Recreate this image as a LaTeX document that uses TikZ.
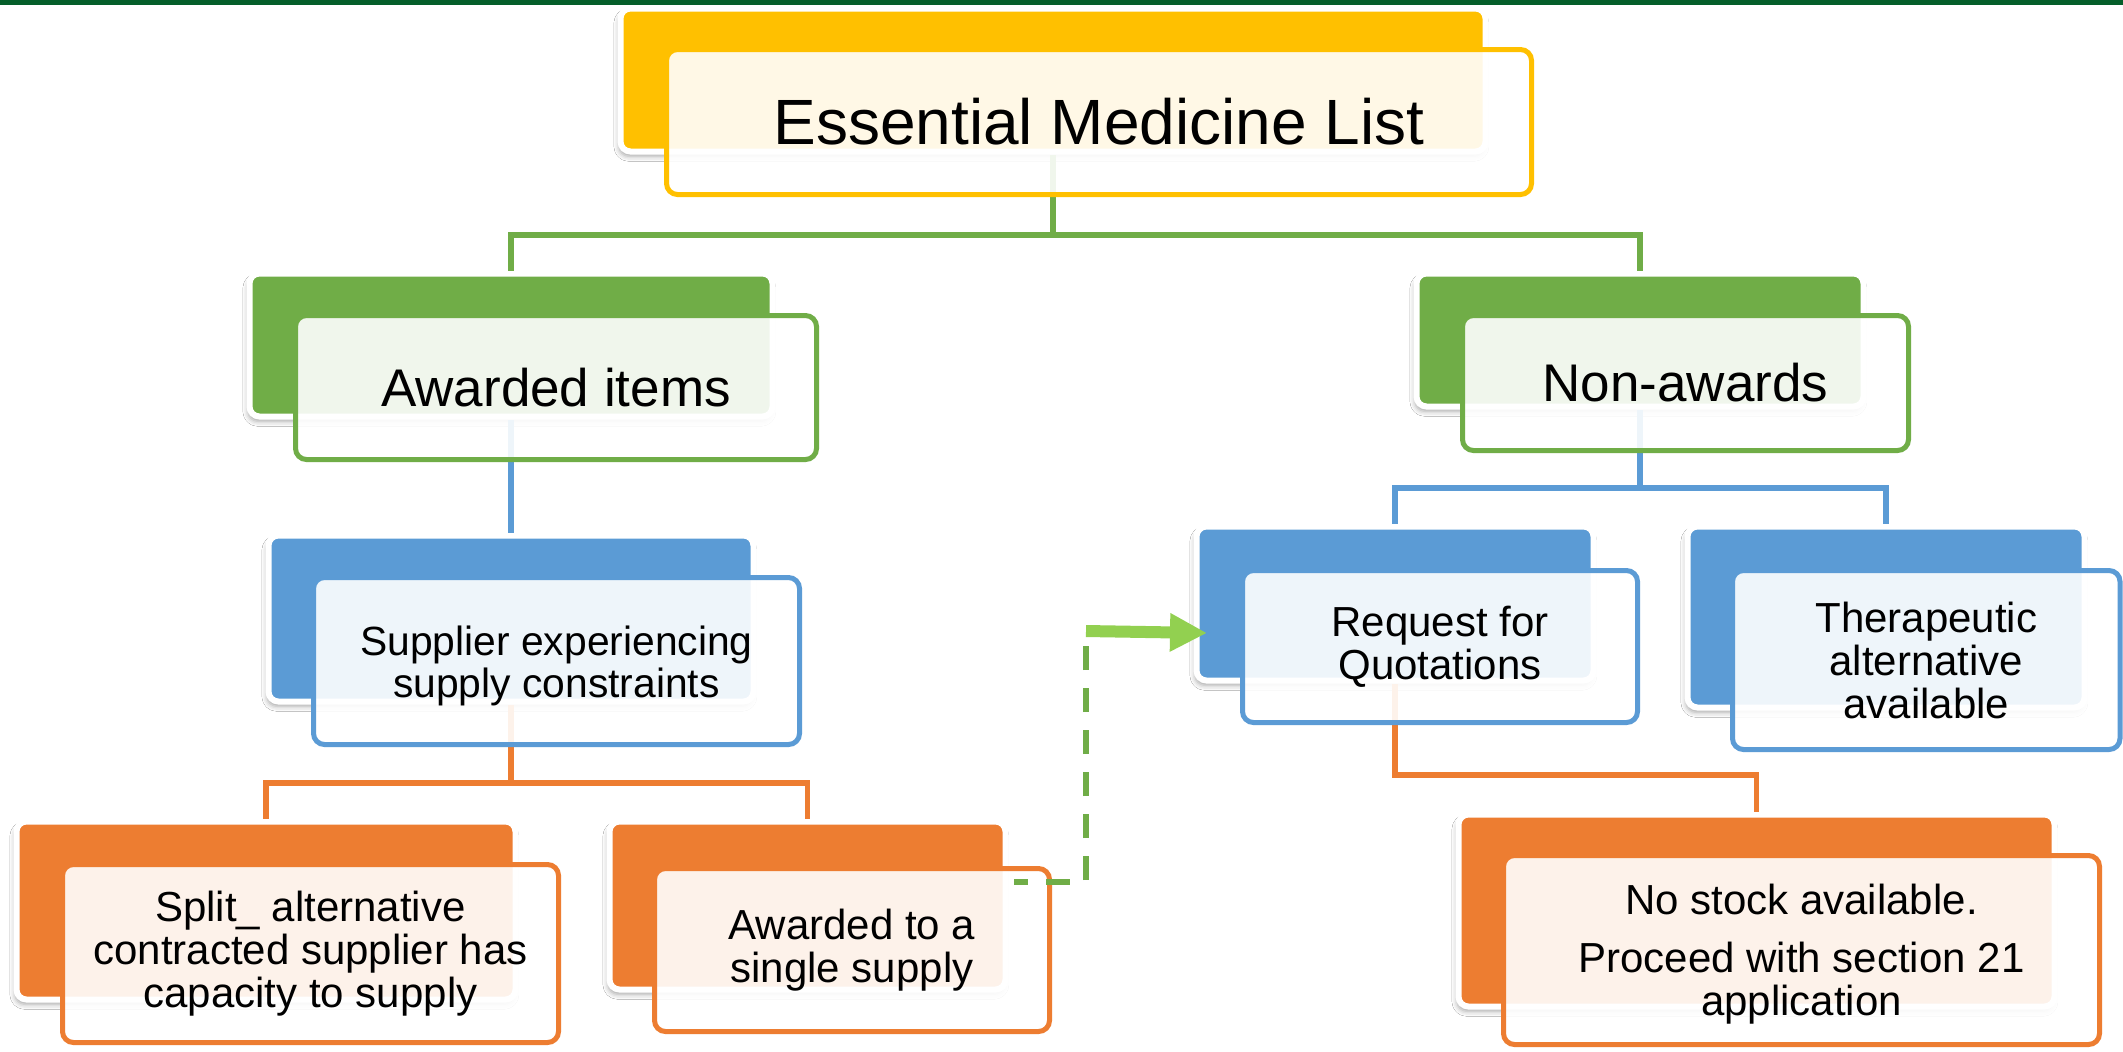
\documentclass[tikz,border=0pt]{standalone}
\usepackage{fontspec}
\setmainfont{Liberation Sans}
\usetikzlibrary{fit,arrows.meta,shadows.blur}
\definecolor{cyel}{HTML}{FFC000}
\definecolor{cgreen}{HTML}{70AD47}
\definecolor{cblue}{HTML}{5B9BD5}
\definecolor{corange}{HTML}{ED7D31}
\definecolor{carrow}{HTML}{92D050}
\definecolor{ctop}{HTML}{055E2A}
\begin{document}
\begin{tikzpicture}[x=0.5pt,y=-0.5pt,
  backbox/.style={draw=white, line width=3pt, rounded corners=5pt, inner sep=0pt,
    blur shadow={shadow xshift=-0.8pt, shadow yshift=-2.4pt, shadow blur radius=2.5pt, shadow opacity=35}},
  frontbox/.style={line width=2.5pt, rounded corners=5.5pt, inner sep=0pt, outer sep=0pt,
    fill=white, fill opacity=0.9},
  conn/.style={line width=2.6pt},
  lbl/.style={align=center, text=black, inner sep=0pt},
  lvla/.style={lbl, font=\fontsize{32}{38}\selectfont},
  lvlb/.style={lbl, font=\fontsize{26.5}{30}\selectfont},
  lvlc/.style={lbl, font=\fontsize{21}{21.5}\selectfont},
  dashconn/.style={cgreen, line width=3pt, dash pattern=on 12pt off 9pt, dash phase=5pt}
]
\useasboundingbox (0,0) rectangle (2123,1051);
\fill[white] (0,0) rectangle (2123,1051);
\fill[ctop] (0,0) rectangle (2123,4.5);

% back boxes
\node[backbox, fill=cyel, fit={(620.5,8.5)(1485.5,151.5)}] (tback) {};
\node[backbox, fill=cgreen, fit={(249.5,273.5)(772.5,416.5)}] (aback) {};
\node[backbox, fill=cgreen, fit={(1416.5,273.5)(1863.5,406.5)}] (nback) {};
\node[backbox, fill=cblue, fit={(268.5,535.5)(753.5,701.5)}] (sback) {};
\node[backbox, fill=cblue, fit={(1196.5,526.5)(1593.5,680.5)}] (rback) {};
\node[backbox, fill=cblue, fit={(1687.5,526.5)(2084.5,707.5)}] (thback) {};
\node[backbox, fill=corange, fit={(16.5,821.5)(515.5,999.5)}] (spback) {};
\node[backbox, fill=corange, fit={(609.5,821.5)(1005.5,989.5)}] (sgback) {};
\node[backbox, fill=corange, fit={(1458.5,814.5)(2054.5,1006.5)}] (nsback) {};

% connectors
\draw[conn, cgreen] (tback.south) -- (tback.south |- 0,235) -| (aback.north);
\draw[conn, cgreen] (tback.south |- 0,235) -| (nback.north);
\draw[conn, cblue] (aback.south) -- (sback.north);
\draw[conn, corange] (sback.south) -- (sback.south |- 0,783) -| (spback.north);
\draw[conn, corange] (sback.south |- 0,783) -| (sgback.north);
\draw[conn, cblue] (nback.south) -- (nback.south |- 0,488) -| (rback.north);
\draw[conn, cblue] (nback.south |- 0,488) -| (thback.north);
\draw[conn, corange] (rback.south) -- (rback.south |- 0,775) -| (nsback.north);

% front boxes
\node[frontbox, draw=cyel, fit={(666.5,49.5)(1531.5,194.5)}] (tfront) {};
\node[frontbox, draw=cgreen, fit={(295.5,315.5)(816.5,459.5)}] (afront) {};
\node[frontbox, draw=cgreen, fit={(1462.5,315.5)(1908.5,450.5)}] (nfront) {};
\node[frontbox, draw=cblue, fit={(313.5,577.5)(799.5,744.5)}] (sfront) {};
\node[frontbox, draw=cblue, fit={(1242.5,570.5)(1637.5,722.5)}] (rfront) {};
\node[frontbox, draw=cblue, fit={(1732.5,570.5)(2120,749.5)}] (thfront) {};
\node[frontbox, draw=corange, fit={(62.5,864.5)(558.5,1042.5)}] (spfront) {};
\node[frontbox, draw=corange, fit={(654.5,868.5)(1049.5,1031.5)}] (sgfront) {};
\node[frontbox, draw=corange, fit={(1503.5,855.5)(2099.5,1044.5)}] (nsfront) {};

% texts
\node[lvla] (ttext) at (tfront.center) {Essential Medicine List};
\node[lvlb] (atext) at (afront.center) {Awarded items};
\node[lvlb] (ntext) at (nfront.center) {Non-awards};
\node[lvlc, font=\fontsize{20.4}{21.4}\selectfont] (stext) at ([yshift=-2.5pt]sfront.center) {Supplier experiencing\\supply constraints};
\node[lvlc] (rtext) at (rfront.center) {Request for\\Quotations};
\node[lvlc] (thtext) at (thfront.center) {Therapeutic\\alternative\\available};
\node[lvlc] (sptext) at (spfront.center) {Split\_ alternative\\contracted supplier has\\capacity to supply};
\node[lvlc] (sgtext) at (sgfront.center) {Awarded to a\\single supply};
\node[lvlc] (nstext) at ([yshift=-2pt]nsfront.center) {No stock available.\\[7.5pt]Proceed with section 21\\application};

% dashed link and arrow
\coordinate (d0) at (1014,882);
\coordinate (d1) at (1086,882);
\coordinate (d2) at (1086,646);
\draw[dashconn] (d0) -- (d1) -- (d2);
\coordinate (a0) at (1086,631);
\coordinate (a1) at (1207,633);
\draw[carrow, line width=6pt, -{Triangle[length=18.5pt,width=18pt]}] (a0) -- (a1);
\end{tikzpicture}
\end{document}
